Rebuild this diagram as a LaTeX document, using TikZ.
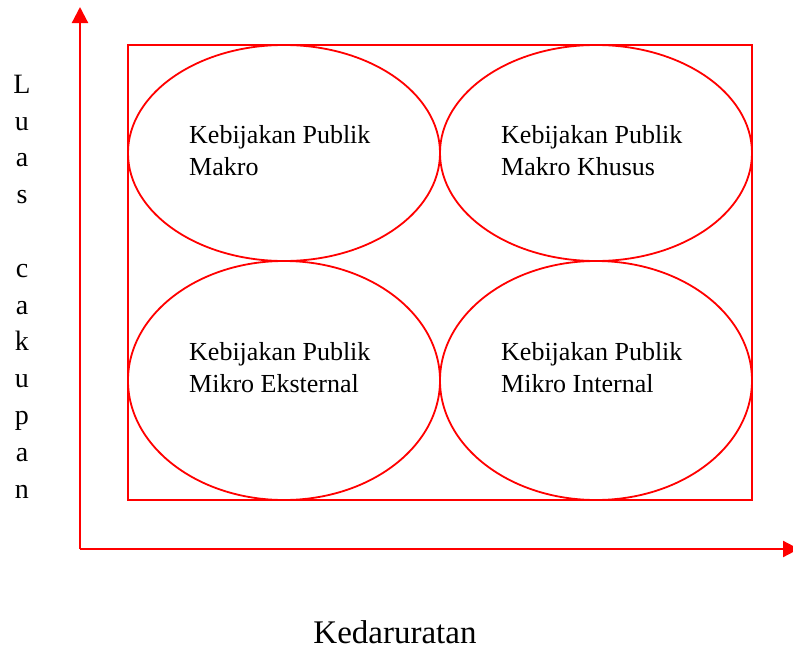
\documentclass[tikz,border=0pt]{standalone}
\usepackage{fontspec}
\setmainfont{Liberation Serif}
\usetikzlibrary{shapes.geometric,arrows.meta}
\definecolor{linered}{RGB}{255,0,0}

\begin{document}
\begin{tikzpicture}[x=1pt,y=-1pt,
  outline/.style={draw=linered, line width=1.8pt},
  oval/.style={outline, ellipse, inner sep=0pt, minimum width=312pt},
  axisline/.style={draw=linered, line width=2.2pt, -{Triangle[length=16pt,width=16pt]}},
  celltext/.style={align=left, inner sep=0pt, font=\fontsize{26}{32}\selectfont},
]
\useasboundingbox (0,0) rectangle (793,648);

% axes
\coordinate (origin) at (80,549);
\coordinate (ytip) at (80,7);
\coordinate (xtip) at (799,549);
\draw[axisline] (origin) -- (ytip);
\draw[axisline] (origin) -- (xtip);

% outer frame
\node[outline, rectangle, inner sep=0pt, minimum width=624pt, minimum height=455pt]
  (frame) at (440,272.5) {};

% four quadrants
\node[oval, minimum height=216pt] (makro) at (284,153) {};
\node[oval, minimum height=216pt] (khusus) at (596,153) {};
\node[oval, minimum height=239pt] (eksternal) at (284,380.5) {};
\node[oval, minimum height=239pt] (internal) at (596,380.5) {};

% quadrant captions (anchored at the baseline of their last line)
\node[celltext, anchor=base west] (makrotext) at (189,175) {Kebijakan Publik\\Makro};
\node[celltext, anchor=base west] (khusustext) at (501,175) {Kebijakan Publik\\Makro Khusus};
\node[celltext, anchor=base west] (eksternaltext) at (189,392) {Kebijakan Publik\\Mikro Eksternal};
\node[celltext, anchor=base west] (internaltext) at (501,392) {Kebijakan Publik\\Mikro Internal};

% axis titles
\node[align=center, inner sep=0pt, font=\fontsize{28}{36.8}\selectfont, anchor=base]
  (ytitle) at (22,498) {L\\u\\a\\s\\\mbox{}\\c\\a\\k\\u\\p\\a\\n};
\node[inner sep=0pt, font=\fontsize{33}{38}\selectfont, anchor=base] (xtitle) at (395,643) {Kedaruratan};
\end{tikzpicture}
\end{document}
